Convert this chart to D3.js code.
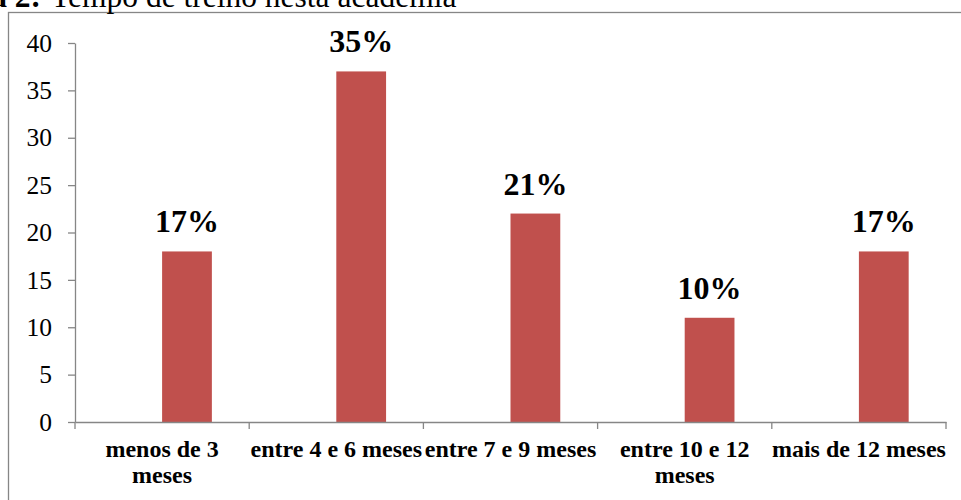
<!DOCTYPE html>
<html lang="pt">
<head>
    <meta charset="UTF-8">
    <title> Tempo de treino </title>
    <script src="https://cdn.jsdelivr.net/npm/d3@7"></script>
    <style>
        body { margin: 0; background: #fff; }
        text { font-family: "Liberation Serif", "Times New Roman", serif; }
    </style>
</head>
<body>
<svg width="961" height="500"></svg>
<script>
    // dados
    let categories = ['menos de 3 meses', 'entre 4 e 6 meses', 'entre 7 e 9 meses', 'entre 10 e 12 meses', 'mais de 12 meses']
    let tickLines = [['menos de 3', 'meses'], ['entre 4 e 6 meses'], ['entre 7 e 9 meses'], ['entre 10 e 12', 'meses'], ['mais de 12 meses']]
    let values = [18, 37, 22, 11, 18]
    let percents = ['17%', '35%', '21%', '10%', '17%']
    let yTicks = [0, 5, 10, 15, 20, 25, 30, 35, 40]

    let svg = d3.select('svg');
    let plotLeft = 75, plotRight = 946, plotTop = 43, plotBottom = 422;
    let grey = '#868686';

    // moldura (cortada a direita e em baixo)
    svg.append('rect')
        .attr('x', 8.5).attr('y', 12.5)
        .attr('width', 1000).attr('height', 600)
        .attr('fill', '#fff')
        .attr('stroke', grey).attr('stroke-width', 1.3);

    // titulo, cortado no topo como no original
    let title = svg.append('text').attr('y', 7).attr('font-size', 31.5);
    title.append('tspan').attr('x', 41).attr('text-anchor', 'end').attr('font-weight', 'bold').text('Figura 2:');
    title.append('tspan').attr('x', 51).attr('text-anchor', 'start').text('Tempo de treino nesta academia');

    let scaleX = d3.scaleBand().domain(categories).range([plotLeft, plotRight]).padding(0);
    // Excel: duas series, a primeira vazia, gap width 150%
    let inner = d3.scaleBand().domain(['vazia', 'valor']).range([0, scaleX.bandwidth()])
        .paddingInner(0).paddingOuter(0.75);
    let scaleY = d3.scaleLinear().domain([0, 40]).range([plotBottom, plotTop]);

    // barras
    svg.append('g').selectAll('rect')
        .data(values)
        .enter()
        .append('rect')
        .attr('x', (d, i) => scaleX(categories[i]) + inner('valor'))
        .attr('y', d => scaleY(d))
        .attr('width', inner.bandwidth())
        .attr('height', d => scaleY(0) - scaleY(d))
        .attr('fill', '#C0504D');

    // rotulos de percentagem
    svg.append('g').selectAll('text')
        .data(values)
        .enter()
        .append('text')
        .attr('x', (d, i) => scaleX(categories[i]) + inner('valor') + inner.bandwidth() / 2)
        .attr('y', d => scaleY(d) - 19)
        .attr('text-anchor', 'middle')
        .attr('font-size', 32)
        .attr('font-weight', 'bold')
        .text((d, i) => percents[i]);

    // eixo y
    let yAxis = svg.append('g')
        .attr('transform', 'translate(' + plotLeft + ',0)')
        .call(d3.axisLeft(scaleY).tickValues(yTicks).tickSize(7).tickPadding(16).tickSizeOuter(0));
    yAxis.selectAll('path, line').attr('stroke', grey).attr('stroke-width', 1.3);
    yAxis.selectAll('text').attr('font-size', 25.5).attr('fill', '#000')
        .attr('font-family', '"Liberation Serif", serif');

    // eixo x
    let xAxis = svg.append('g')
        .attr('transform', 'translate(0,' + plotBottom + ')')
        .call(d3.axisBottom(scaleX).tickSize(0).tickPadding(0).tickSizeOuter(0));
    xAxis.selectAll('path').attr('stroke', grey).attr('stroke-width', 1.3);
    xAxis.selectAll('.tick text').remove();
    let edges = categories.map(c => scaleX(c)).concat([scaleX.range()[1]]);
    xAxis.selectAll('.edge')
        .data(edges)
        .enter()
        .append('line')
        .attr('x1', d => d).attr('x2', d => d)
        .attr('y1', 0).attr('y2', 7)
        .attr('stroke', grey).attr('stroke-width', 1.3);

    let labels = xAxis.selectAll('.lbl')
        .data(categories)
        .enter()
        .append('text')
        .attr('text-anchor', 'middle')
        .attr('font-size', 24)
        .attr('font-weight', 'bold')
        .attr('fill', '#000')
        .attr('font-family', '"Liberation Serif", serif');
    labels.selectAll('tspan')
        .data((d, i) => tickLines[i].map(t => ({t: t, c: d})))
        .enter()
        .append('tspan')
        .attr('x', d => scaleX(d.c) + scaleX.bandwidth() / 2)
        .attr('y', (d, j) => 35 + j * 26)
        .text(d => d.t);
</script>
</body>
</html>
